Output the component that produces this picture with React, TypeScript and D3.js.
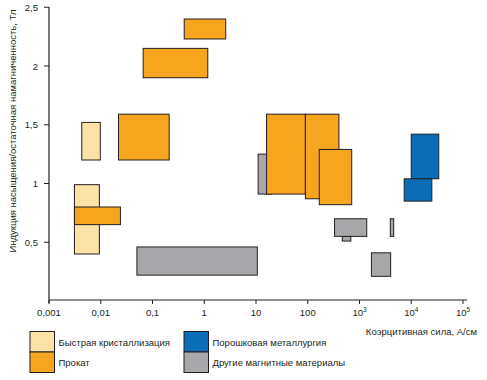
import React from "react";
import * as d3 from "d3";

const W = 487;
const H = 380;

// Categories
const categories = ["rapid", "rolled", "powder", "other"];
const categoryLabels = [
  "Быстрая кристаллизация",
  "Прокат",
  "Порошковая металлургия",
  "Другие магнитные материалы",
];
const categoryColors = ["#fde2a8", "#f7a41e", "#0a6db7", "#a8a8ab"];

// Rectangles (drawing order)
const rectCategory = [
  "rapid", "rapid", "rolled", "rolled", "rolled", "rolled",
  "other", "other", "rolled", "rolled", "rolled",
  "powder", "powder", "other", "other", "other", "other",
];
const coerciveMin = [
  0.0043, 0.0031, 0.0031, 0.022, 0.066, 0.41,
  0.05, 11, 16, 90, 167,
  10000, 7300, 465, 330, 3940, 1700,
];
const coerciveMax = [
  0.0098, 0.0094, 0.024, 0.21, 1.17, 2.6,
  10.6, 20, 90, 400, 707,
  34000, 25000, 680, 1380, 4580, 4000,
];
const inductionMin = [
  1.2, 0.4, 0.65, 1.2, 1.9, 2.23,
  0.22, 0.91, 0.91, 0.87, 0.82,
  1.04, 0.85, 0.51, 0.55, 0.55, 0.21,
];
const inductionMax = [
  1.52, 0.99, 0.8, 1.59, 2.15, 2.4,
  0.46, 1.25, 1.59, 1.59, 1.29,
  1.42, 1.04, 0.55, 0.70, 0.70, 0.41,
];

// Ticks
const xTickValues = [1e-3, 1e-2, 1e-1, 1, 10, 100, 1e3, 1e4, 1e5];
const xTickBase = ["0,001", "0,01", "0,1", "1", "10", "100", "10", "10", "10"];
const xTickSup = ["", "", "", "", "", "", "3", "4", "5"];
const yTickValues = [0.5, 1, 1.5, 2, 2.5];
const yTickLabels = ["0,5", "1", "1,5", "2", "2,5"];

const xAxisTitle = "Коэрцитивная сила, А/см";
const yAxisTitle = "Индукция насыщения/остаточная намагниченность, Тл";

const FONT = "'Liberation Sans', Arial, sans-serif";
const INK = "#231f20";

export default function App() {
  const x = d3.scaleLog().domain([1e-3, 1e5]).range([49, 463]);
  const y = d3.scaleLinear().domain([0, 2.5]).range([301, 7.25]);
  const color = d3.scaleOrdinal<string, string>().domain(categories).range(categoryColors);

  const axisY = 300;
  const axisX = 49;

  return (
    <svg
      width={W}
      height={H}
      style={{ position: "absolute", left: 0, top: 0, background: "#fff" }}
      fontFamily={FONT}
    >
      {/* rectangles */}
      {rectCategory.map((c, i) => {
        const x0 = x(coerciveMin[i]);
        const x1 = x(coerciveMax[i]);
        const y0 = y(inductionMax[i]);
        const y1 = y(inductionMin[i]);
        return (
          <rect
            key={i}
            x={x0}
            y={y0}
            width={x1 - x0}
            height={y1 - y0}
            fill={color(c)}
            stroke={INK}
            strokeWidth={1}
          />
        );
      })}

      {/* axes */}
      <line x1={axisX} x2={axisX} y1={7} y2={303} stroke={INK} strokeWidth={1.2} />
      <line x1={axisX} x2={467} y1={axisY} y2={axisY} stroke={INK} strokeWidth={1.2} />

      {xTickValues.map((v, i) => (
        <g key={"xt" + i}>
          <line x1={x(v)} x2={x(v)} y1={axisY} y2={axisY + 4} stroke={INK} strokeWidth={1} />
          <text x={x(v)} y={316} textAnchor="middle" fontSize={9.5} fill={INK}>
            {xTickBase[i]}
            {xTickSup[i] && (
              <tspan fontSize={6.5} dy={-4}>
                {xTickSup[i]}
              </tspan>
            )}
          </text>
        </g>
      ))}

      {yTickValues.map((v, i) => (
        <g key={"yt" + i}>
          <line x1={axisX - 5} x2={axisX} y1={y(v)} y2={y(v)} stroke={INK} strokeWidth={1} />
          <text x={38} y={y(v) + 3.5} textAnchor="end" fontSize={9.5} fill={INK}>
            {yTickLabels[i]}
          </text>
        </g>
      ))}

      <text x={477} y={335} textAnchor="end" fontSize={9.5} fill={INK}>
        {xAxisTitle}
      </text>
      <text
        transform={`translate(16,131) rotate(-90)`}
        textAnchor="middle"
        fontSize={9.5}
        fill={INK}
      >
        {yAxisTitle}
      </text>

      {/* legend */}
      {categories.map((c, i) => {
        const col = i < 2 ? 0 : 1;
        const row = i % 2;
        const sx = col === 0 ? 30 : 184;
        const sy = 331.5 + row * 20.5;
        return (
          <g key={"lg" + i}>
            <rect x={sx} y={sy} width={24.5} height={20.5} fill={color(c)} stroke={INK} strokeWidth={1} />
            <text x={sx + 28.5} y={sy + 14} fontSize={9.5} fill={INK}>
              {categoryLabels[i]}
            </text>
          </g>
        );
      })}
    </svg>
  );
}
